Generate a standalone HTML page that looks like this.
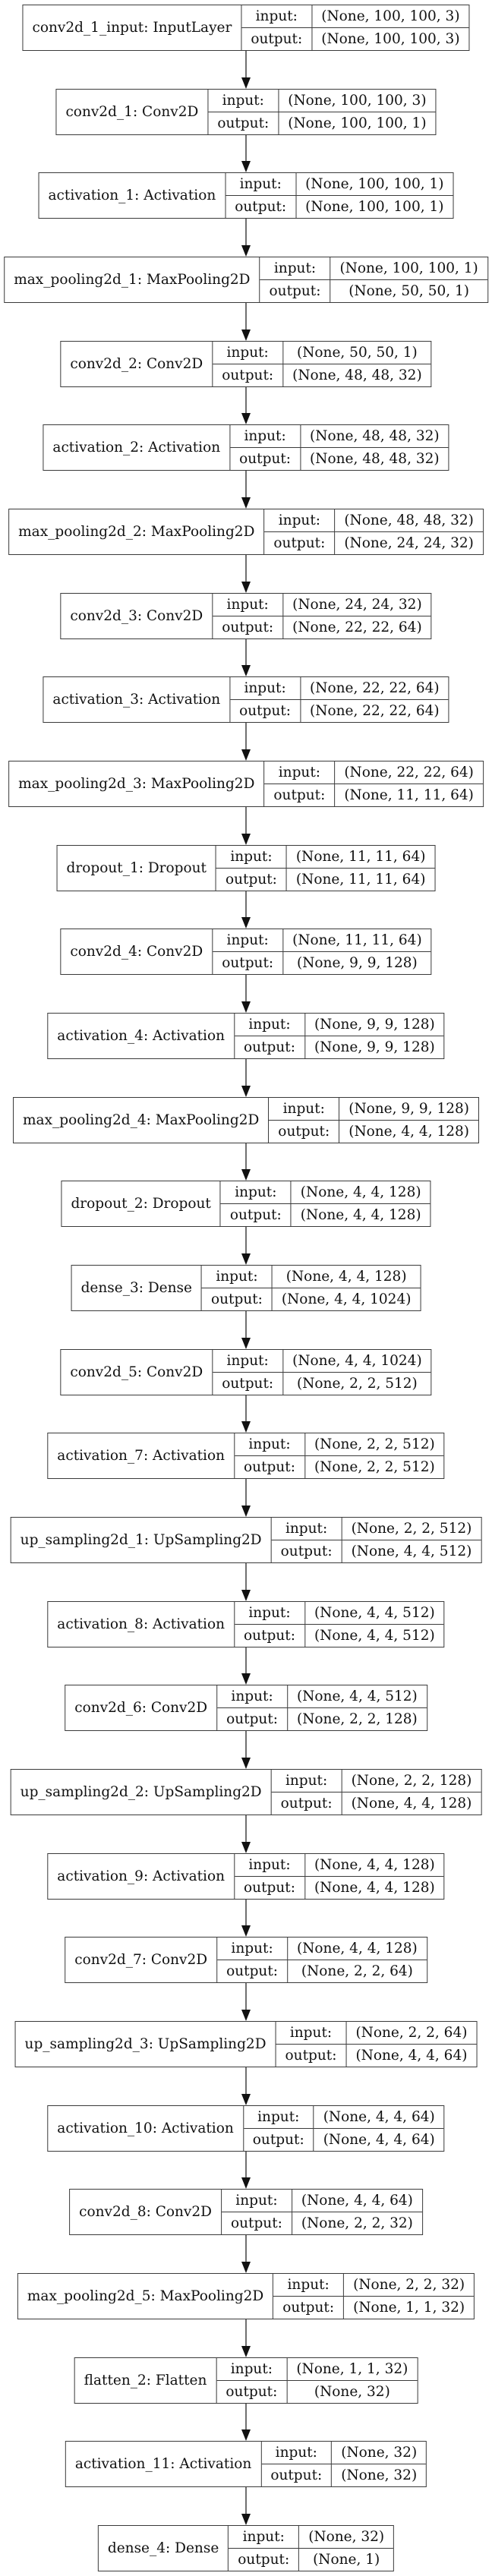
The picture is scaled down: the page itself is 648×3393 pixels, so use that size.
<!DOCTYPE html>
<html><head><meta charset="utf-8">
<style>
html,body{margin:0;padding:0;background:#fff;}
body{width:648px;height:3393px;position:relative;overflow:hidden;font-family:"DejaVu Serif","Liberation Serif",serif;font-size:18.5px;color:#111;}
.n{position:absolute;left:324px;transform:translateX(-50%);height:59px;display:flex;border:1.3px solid #3a3a3a;background:#fff;white-space:nowrap;}
.l{display:flex;align-items:center;padding:0 12px;border-right:1.3px solid #3a3a3a;}
.g{display:grid;grid-template-columns:auto auto;grid-template-rows:1fr 1fr;}
.g div{display:flex;align-items:center;justify-content:center;padding:0 12px;}
.g div:nth-child(1),.g div:nth-child(3){border-right:1.3px solid #3a3a3a;}
.g div:nth-child(1),.g div:nth-child(2){border-bottom:1.3px solid #3a3a3a;}
svg{position:absolute;left:0;top:0;}
</style></head><body>
<svg width="648" height="3393" id="s"></svg>
<div id="c"></div>
<script>
var L=[
["conv2d_1_input: InputLayer","(None, 100, 100, 3)","(None, 100, 100, 3)"],
["conv2d_1: Conv2D","(None, 100, 100, 3)","(None, 100, 100, 1)"],
["activation_1: Activation","(None, 100, 100, 1)","(None, 100, 100, 1)"],
["max_pooling2d_1: MaxPooling2D","(None, 100, 100, 1)","(None, 50, 50, 1)"],
["conv2d_2: Conv2D","(None, 50, 50, 1)","(None, 48, 48, 32)"],
["activation_2: Activation","(None, 48, 48, 32)","(None, 48, 48, 32)"],
["max_pooling2d_2: MaxPooling2D","(None, 48, 48, 32)","(None, 24, 24, 32)"],
["conv2d_3: Conv2D","(None, 24, 24, 32)","(None, 22, 22, 64)"],
["activation_3: Activation","(None, 22, 22, 64)","(None, 22, 22, 64)"],
["max_pooling2d_3: MaxPooling2D","(None, 22, 22, 64)","(None, 11, 11, 64)"],
["dropout_1: Dropout","(None, 11, 11, 64)","(None, 11, 11, 64)"],
["conv2d_4: Conv2D","(None, 11, 11, 64)","(None, 9, 9, 128)"],
["activation_4: Activation","(None, 9, 9, 128)","(None, 9, 9, 128)"],
["max_pooling2d_4: MaxPooling2D","(None, 9, 9, 128)","(None, 4, 4, 128)"],
["dropout_2: Dropout","(None, 4, 4, 128)","(None, 4, 4, 128)"],
["dense_3: Dense","(None, 4, 4, 128)","(None, 4, 4, 1024)"],
["conv2d_5: Conv2D","(None, 4, 4, 1024)","(None, 2, 2, 512)"],
["activation_7: Activation","(None, 2, 2, 512)","(None, 2, 2, 512)"],
["up_sampling2d_1: UpSampling2D","(None, 2, 2, 512)","(None, 4, 4, 512)"],
["activation_8: Activation","(None, 4, 4, 512)","(None, 4, 4, 512)"],
["conv2d_6: Conv2D","(None, 4, 4, 512)","(None, 2, 2, 128)"],
["up_sampling2d_2: UpSampling2D","(None, 2, 2, 128)","(None, 4, 4, 128)"],
["activation_9: Activation","(None, 4, 4, 128)","(None, 4, 4, 128)"],
["conv2d_7: Conv2D","(None, 4, 4, 128)","(None, 2, 2, 64)"],
["up_sampling2d_3: UpSampling2D","(None, 2, 2, 64)","(None, 4, 4, 64)"],
["activation_10: Activation","(None, 4, 4, 64)","(None, 4, 4, 64)"],
["conv2d_8: Conv2D","(None, 4, 4, 64)","(None, 2, 2, 32)"],
["max_pooling2d_5: MaxPooling2D","(None, 2, 2, 32)","(None, 1, 1, 32)"],
["flatten_2: Flatten","(None, 1, 1, 32)","(None, 32)"],
["activation_11: Activation","(None, 32)","(None, 32)"],
["dense_4: Dense","(None, 32)","(None, 1)"]
];
var h="",s="";
for(var i=0;i<L.length;i++){
 var t=Math.round(6+i*110.67);
 h+='<div class="n" style="top:'+t+'px"><div class="l">'+L[i][0]+'</div><div class="g"><div>input:</div><div>'+L[i][1]+'</div><div>output:</div><div>'+L[i][2]+'</div></div></div>';
 if(i<L.length-1){
  var y1=t+61,y2=Math.round(6+(i+1)*110.67);
  s+='<line x1="324" y1="'+y1+'" x2="324" y2="'+(y2-14)+'" stroke="#222" stroke-width="1.3"/>';
  s+='<polygon points="318,'+(y2-15)+' 330,'+(y2-15)+' 324,'+y2+'" fill="#111"/>';
 }
}
document.getElementById("c").innerHTML=h;
document.getElementById("s").innerHTML=s;
</script>
</body></html>
